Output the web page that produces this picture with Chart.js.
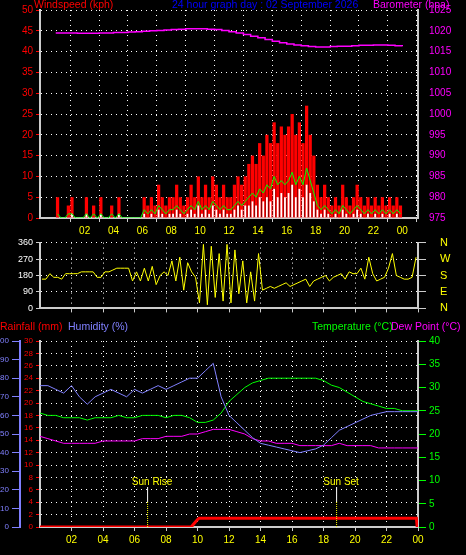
<!DOCTYPE html>
<html><head><meta charset="utf-8">
<script src="https://cdn.jsdelivr.net/npm/chart.js@4/dist/chart.umd.min.js"></script>
<style>body{margin:0;background:#000;width:466px;height:555px;overflow:hidden;position:relative}canvas{position:absolute;left:0}</style>
</head><body>
<canvas id="c1" width="466" height="240" style="top:0"></canvas>
<canvas id="c3" width="466" height="240" style="top:315px"></canvas>
<canvas id="c2" width="466" height="107" style="top:222px"></canvas>
<script>
const title = "24 hour graph day : 02 September 2026";
const hourTicks = [2,4,6,8,10,12,14,16,18,20,22,24];
const windGust = [5,0,0,3,5,0,0,0, 5,0,3,0,5,0,0,3, 0,5,0,0,0,0,0,0, 5,3,5,3,8,5,3,5, 5,8,5,3,5,8,5,10, 5,8,5,10,8,5,8,5, 5,8,10,8,10,13,15,13, 18,15,20,18,23,18,22,20, 22,25,20,23,18,27,20,15, 8,5,8,5,3,5,3,8, 5,3,5,8,5,3,5,3, 5,3,5,3,5,3,5,3];
const windAvg = [1,0,0,1,1,0,0,0, 1,0,1,0,1,0,0,1, 0,1,0,0,0,0,0,0, 2,1,2,1,3,2,1,2, 2,3,2,1,2,3,2,4, 2,3,2,4,3,2,3,2, 2,3,4,3,4,5,6,5, 7,6,8,7,10,8,9,8, 9,11,8,10,8,12,9,6, 3,2,3,2,1,2,1,3, 2,1,2,3,2,1,2,1, 2,1,2,1,2,1,2,1];
const windLull = [0,0,0,0,1,0,0,0, 1,0,0,0,1,0,0,0, 0,1,0,0,0,0,0,0, 1,0,1,0,2,1,0,1, 1,2,1,0,1,2,1,3, 1,2,1,3,2,1,2,1, 1,2,3,2,3,3,4,3, 5,4,5,4,7,5,6,5, 6,8,5,7,5,8,6,4, 2,1,2,1,0,1,0,2, 1,0,1,2,1,0,1,0, 1,0,1,0,1,0,1,0];
const windDir = [160,160,190,170,170,160,190,190, 190,190,200,200,200,200,170,170, 200,200,210,220,220,220,220,150, 200,150,220,150,230,130,180,200, 180,260,150,280,100,250,200,170, 30,350,20,340,60,300,40,350, 30,320,80,260,30,200,40,300, 100,110,120,110,120,130,140,120, 130,140,150,160,120,150,160,170, 180,150,170,180,190,160,200,190, 190,220,160,280,190,150,160,170, 220,300,180,170,160,160,170,280];
const baro = [1019.5,1019.5,1019.5,1019.4,1019.4,1019.4,1019.5,1019.5,1019.6,1019.6,1019.7,1019.8,1019.9,1020,1020.1,1020.2,1020.3,1020.4,1020.5,1020.5,1020.5,1020.4,1020.3,1020.1,1019.8,1019.5,1019.1,1018.7,1018.3,1017.9,1017.5,1017.1,1016.8,1016.6,1016.4,1016.2,1016.1,1016.1,1016.2,1016.3,1016.3,1016.4,1016.5,1016.5,1016.6,1016.6,1016.5,1016.4,1016.3];
const humidity = [76,76,74,72,76,70,66,70,72,74,72,70,74,72,74,76,74,76,78,80,80,84,88,70,60,56,52,48,45,44,43,42,41,40,41,42,44,48,52,54,56,58,60,61,62,62,62,62,62];
const temperature = [24.5,24,24,23.5,23.5,23.5,23,23.5,23.5,23.5,24,23.5,23.5,24,24,24,23.5,24,24,23.5,22.5,22.5,23,24.5,27,28.5,30,31,31.5,32,32,32,32,32,32,32,31.5,30.5,30,29,28,27,26.5,26,25.5,25.5,25,25,25];
const dewPoint = [19.5,19,18.5,18,18,18,18,18,18.5,18.5,18.5,18.5,18.5,19,19,19,19.5,19.5,19.5,20,20,20.5,21,21,21,20.5,20,19,18.5,18.5,18,18,18,17.5,17.5,17.5,17.5,17.5,18,17.5,17.5,17.5,17.5,17,17,17,17,17,17];
const rainT = [0,9.6,9.8,10,10.1,23.9,23.95,24];
const rainV = [0,0,0.6,1.2,1.4,1.4,0,0];
const sunRise = 6.8, sunSet = 18.8;

const q = a => a.map((v,i)=>({x:i*0.25+0.125,y:v}));
const h = a => a.map((v,i)=>({x:i*0.5,y:v}));
Chart.defaults.font.family = "Liberation Sans";
Chart.defaults.font.size = 10;
Chart.defaults.animation = false;
const dot = [1,4];
const grid = {color:'#ffffff',drawTicks:true,tickColor:'#ffffff',tickLength:4};
const fix = w => ({afterFit(s){s.width=w;}});
function xAxis(show){return {type:'linear',min:0,max:24,border:{color:'#ccc',width:2,dash:dot},
  grid:{...grid,tickColor:'#ccc'},ticks:{display:show,stepSize:2,color:'#ffff00',autoSkip:false,maxRotation:0,
  callback:v=>v===0?'':(v%24<10?'0':'')+(v%24)},afterBuildTicks(s){s.ticks=hourTicks.map(v=>({value:v}));}};}
function txt(ctx,s,x,y,c,align){ctx.save();ctx.font='10.5px Liberation Sans';ctx.fillStyle=c;ctx.textAlign=align||'left';ctx.textBaseline='top';ctx.fillText(s,x,y);ctx.restore();}

new Chart(document.getElementById('c1'),{
 data:{datasets:[
  {type:'line',data:h(baro),yAxisID:'yb',borderColor:'#ff00ff',borderWidth:1.5,pointRadius:0,stepped:true},
  {type:'line',data:q(windAvg),yAxisID:'y',borderColor:'#00ff00',borderWidth:1,pointRadius:0},
  {type:'bar',data:q(windLull),yAxisID:'y',backgroundColor:'#ffffff',barPercentage:0.5,categoryPercentage:1,grouped:false},
  {type:'bar',data:q(windGust),yAxisID:'y',backgroundColor:'#ff0000',barPercentage:0.9,categoryPercentage:1,grouped:false}
 ]},
 options:{responsive:false,layout:{padding:{top:10,bottom:0}},plugins:{legend:{display:false},tooltip:{enabled:false}},
  scales:{x:xAxis(true),
   y:{position:'left',min:0,max:50,...fix(40),border:{color:'#ccc',width:2,dash:dot},grid:{...grid,tickColor:'#ff0000'},ticks:{stepSize:5,color:'#ff0000',autoSkip:false}},
   yb:{position:'right',min:975,max:1025,...fix(48),border:{color:'#ccc',width:2},grid:{display:false,drawOnChartArea:false,tickColor:'#ff00ff'},ticks:{stepSize:5,color:'#ff00ff',autoSkip:false,callback:v=>String(v)}}}},
 plugins:[{id:'t',afterDraw(c){const x=c.ctx;txt(x,'Windspeed (kph)',34,0,'#ff0000');txt(x,title,172,0,'#0000ff');txt(x,'Barometer (hpa)',373,0,'#ff00ff');}}]
});

const dirLab={0:'N',90:'E',180:'S',270:'W',360:'N'};
new Chart(document.getElementById('c2'),{
 data:{datasets:[{type:'line',data:q(windDir),borderColor:'#ffff00',borderWidth:1,pointRadius:0}]},
 options:{responsive:false,maintainAspectRatio:false,layout:{padding:0},plugins:{legend:{display:false},tooltip:{enabled:false}},
  scales:{x:{...xAxis(false),afterFit(s){s.height=6;}},
   y:{position:'left',min:0,max:360,...fix(40),border:{color:'#ccc',width:2,dash:dot},grid:{...grid,tickColor:'#ccc'},ticks:{stepSize:90,color:'#ffffff',autoSkip:false,font:{size:9}}},
   yr:{position:'right',min:0,max:360,...fix(48),border:{color:'#ccc',width:2},grid:{drawOnChartArea:false,tickColor:'#ccc'},
     ticks:{stepSize:90,color:'#ffff00',autoSkip:false,font:{size:11},padding:14,callback:v=>dirLab[v]}}}}
});

new Chart(document.getElementById('c3'),{
 data:{datasets:[
  {type:'line',data:h(humidity),yAxisID:'yh',borderColor:'#8080ff',borderWidth:1,pointRadius:0},
  {type:'line',data:h(temperature),yAxisID:'yt',borderColor:'#00ff00',borderWidth:1,pointRadius:0},
  {type:'line',data:h(dewPoint),yAxisID:'yt',borderColor:'#ff00ff',borderWidth:1,pointRadius:0},
  {type:'line',data:rainT.map((t,i)=>({x:t,y:rainV[i]})),yAxisID:'yr',borderColor:'#ff0000',borderWidth:3,pointRadius:0}
 ]},
 options:{responsive:false,layout:{padding:{top:26,bottom:0}},plugins:{legend:{display:false},tooltip:{enabled:false}},
  scales:{x:{...xAxis(true),afterFit(s){s.height=28;}},
   yr:{position:'left',weight:1,min:0,max:30,...fix(20),border:{color:'#ccc',width:2,dash:dot},grid:{...grid,tickColor:'#ff0000'},ticks:{stepSize:2,color:'#ff0000',autoSkip:false,font:{size:8}}},
   yh:{position:'left',weight:2,min:0,max:100,...fix(20),border:{color:'#8080ff',width:2},grid:{drawOnChartArea:false,tickColor:'#8080ff'},ticks:{stepSize:10,color:'#8080ff',autoSkip:false,font:{size:8}}},
   yt:{position:'right',min:0,max:40,...fix(48),border:{color:'#ccc',width:2},grid:{drawOnChartArea:false,tickColor:'#00ff00'},ticks:{stepSize:5,color:'#00ff00',autoSkip:false}}}},
 plugins:[{id:'t3',afterDraw(c){const x=c.ctx,a=c.chartArea,sx=c.scales.x;
  txt(x,'Rainfall (mm)',0,7,'#ff0000');txt(x,'Humidity (%)',68,7,'#8080ff');
  txt(x,'Temperature (°C)',312,7,'#00ff00');txt(x,'Dew Point (°C)',391,7,'#ff00ff');
  [[sunRise,'Sun Rise'],[sunSet,'Sun Set']].forEach(([t,l])=>{const px=sx.getPixelForValue(t);
   x.save();x.strokeStyle='#fff';x.lineWidth=1;x.beginPath();x.moveTo(px+0.5,a.bottom-40);x.lineTo(px+0.5,a.bottom-25);x.stroke();
   x.strokeStyle='#ffff00';x.setLineDash([1,1]);x.beginPath();x.moveTo(px+0.5,a.bottom-25);x.lineTo(px+0.5,a.bottom);x.stroke();x.restore();
   x.save();x.font='10px Liberation Sans';x.fillStyle='#ffff00';x.textAlign='center';x.fillText(l,px+5,a.bottom-42);x.restore();});}}]
});
</script></body></html>
